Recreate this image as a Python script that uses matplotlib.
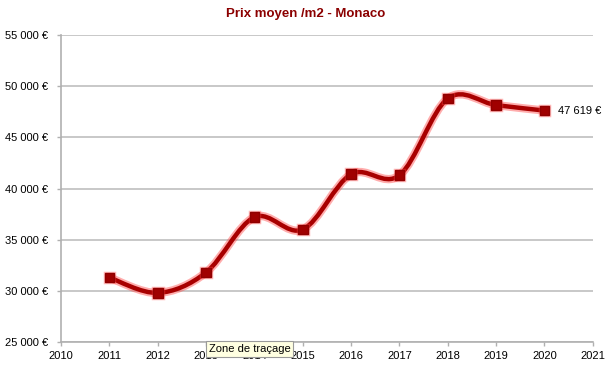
import matplotlib
matplotlib.use("Agg")
import matplotlib.pyplot as plt
import matplotlib.patheffects as pe
from matplotlib.path import Path
from matplotlib.patches import PathPatch
from matplotlib.ticker import FuncFormatter, MultipleLocator

title = "Prix moyen /m2 - Monaco"
years = [2011, 2012, 2013, 2014, 2015, 2016, 2017, 2018, 2019, 2020]
prices = [31300, 29800, 31800, 37200, 36000, 41400, 41300, 48800, 48150, 47619]
last_label = "47 619 €"
tooltip = "Zone de traçage"

plt.rcParams['font.family'] = ['Liberation Sans', 'DejaVu Sans']

fig = plt.figure(figsize=(6.12, 3.65), dpi=100)
ax = fig.add_axes([0.0997, 0.063, 0.869, 0.841])

ax.set_xlim(2010, 2021)
ax.set_ylim(25000, 55000)
ax.yaxis.set_major_locator(MultipleLocator(5000))
ax.xaxis.set_major_locator(MultipleLocator(1))
fmt = lambda v, p: f"{int(v):,} €".replace(",", " ")
ax.yaxis.set_major_formatter(FuncFormatter(fmt))
ax.xaxis.set_major_formatter(FuncFormatter(lambda v, p: f"{int(v)}"))

grid_c = "#c4c4c4"
ax.grid(axis='y', color=grid_c, linewidth=1.3)
ax.set_axisbelow(True)
for s in ['top', 'right']:
    ax.spines[s].set_visible(False)
for s in ['left', 'bottom']:
    ax.spines[s].set_color("#b0b0b0")
    ax.spines[s].set_linewidth(1.2)
ax.tick_params(axis='both', colors="#b0b0b0", labelcolor="black", labelsize=8, length=3, width=1)
ax.tick_params(axis='y', pad=6)
ax.tick_params(axis='x', pad=3.5)

# smooth curve (Catmull-Rom style Bezier) through the data
n = len(years)
verts = [(years[0], prices[0])]
codes = [Path.MOVETO]
for i in range(n - 1):
    x0, y0 = (years[i - 1], prices[i - 1]) if i > 0 else (years[i], prices[i])
    x1, y1 = years[i], prices[i]
    x2, y2 = years[i + 1], prices[i + 1]
    x3, y3 = (years[i + 2], prices[i + 2]) if i + 2 < n else (x2, y2)
    c1 = (x1 + (x2 - x0) / 6, y1 + (y2 - y0) / 6)
    c2 = (x2 - (x3 - x1) / 6, y2 - (y3 - y1) / 6)
    verts += [c1, c2, (x2, y2)]
    codes += [Path.CURVE4] * 3
path = Path(verts, codes)
line_c = "#a80000"
glow = "#ff4a4a"
patch = PathPatch(path, facecolor='none', edgecolor=line_c, linewidth=3.2,
                  capstyle='round', joinstyle='round', zorder=3,
                  path_effects=[pe.Stroke(linewidth=6.0, foreground=glow, alpha=0.45),
                                pe.Normal()])
ax.add_patch(patch)
ax.plot(years, prices, linestyle='none', marker='s', markersize=7,
        color="#a00000", markeredgecolor="#900000", zorder=4,
        path_effects=[pe.Stroke(linewidth=2.5, foreground=glow, alpha=0.4), pe.Normal()])

ax.annotate(last_label, (years[-1], prices[-1]), xytext=(10, 0), textcoords='offset points',
            fontsize=8, va='center', ha='left')

fig.text(0.5, 0.962, title, ha='center', va='center', fontsize=9.5, fontweight='bold', color="#8b0000")

fig.text(0.341, 0.044, tooltip, ha='left', va='center', fontsize=8, color="black",
         bbox=dict(boxstyle='square,pad=0.25', facecolor="#ffffe1", edgecolor="#9a9a9a", linewidth=0.8),
         zorder=10)

fig.savefig("out.png", dpi=100)
